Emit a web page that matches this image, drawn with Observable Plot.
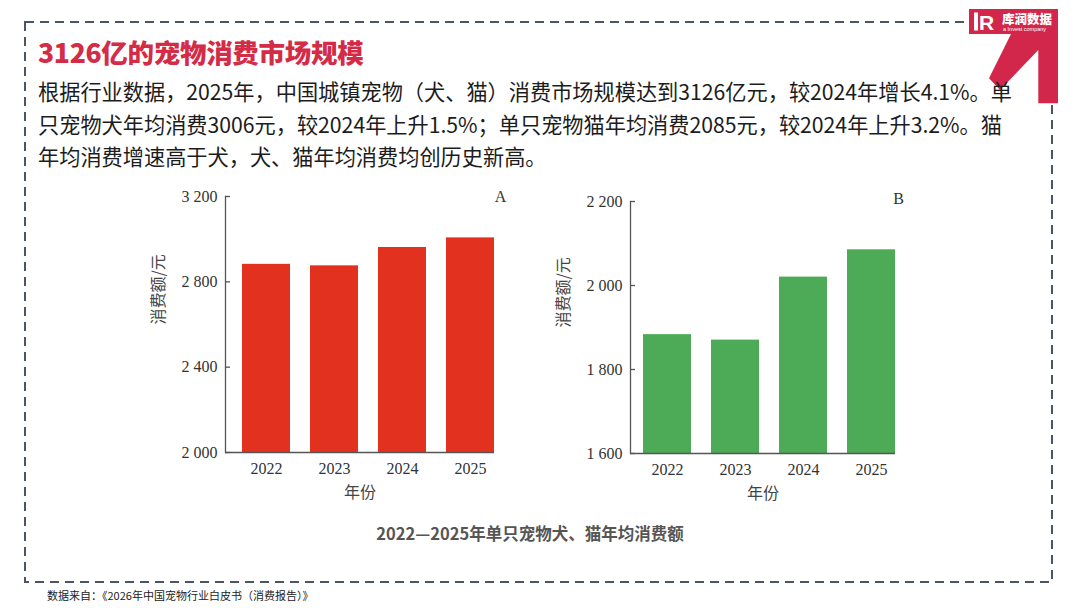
<!DOCTYPE html>
<html>
<head>
<meta charset="utf-8">
<script src="https://cdn.jsdelivr.net/npm/d3@7"></script>
<script src="https://cdn.jsdelivr.net/npm/@observablehq/plot@0.6"></script>
<style>
  html, body { margin: 0; padding: 0; background: #fff; }
  #page { position: relative; width: 1080px; height: 608px; overflow: hidden; background: #fff;
          font-family: "Noto Sans CJK SC", "Noto Sans", sans-serif; }
  #deco { position: absolute; left: 0; top: 0; }
  #title { position: absolute; left: 38px; top: 34px; font-size: 26.5px; font-weight: 900; color: #d42b47;
           line-height: 36px; white-space: nowrap; letter-spacing: -0.3px; }
  #para { position: absolute; left: 38px; top: 75px; font-size: 21.2px; color: #1c1c1c; line-height: 32.5px; }
  #para div { white-space: nowrap; }
  .chart { position: absolute; }
  #chartA { left: 140px; top: 180px; }
  #chartB { left: 540px; top: 180px; }
  #caption { position: absolute; left: 0; width: 1060px; top: 521px; text-align: center; font-size: 16.5px;
             font-weight: 700; color: #555; line-height: 24px; }
  #source { position: absolute; left: 47px; top: 587px; font-size: 11px; color: #222; line-height: 16px; white-space: nowrap; }
</style>
</head>
<body>
<div id="page">
  <svg id="deco" width="1080" height="608">
    <rect x="25" y="22" width="1027" height="560" fill="none" stroke="#4b5563" stroke-width="2" stroke-dasharray="9 6"/>
    <path d="M969,9 L1058,9 L1058,103.3 L1038.3,103.3 L1038.3,50 L1000,90 L989,78.3 L1011,34 L969,34 Z" fill="#d3264b"/>
    <rect x="974" y="12.5" width="4" height="18" fill="#fff"/>
    <text x="979" y="30" font-family="Liberation Sans" font-weight="700" font-size="21" fill="#fff">R</text>
    <text x="1002" y="23.5" font-family="Noto Sans CJK SC" font-weight="900" font-size="12.5" fill="#fff">库润数据</text>
    <text x="1003" y="31" font-family="Liberation Sans" font-size="5.5" fill="#fff">a Invest company</text>
  </svg>
  <div id="title">3126亿的宠物消费市场规模</div>
  <div id="para">
    <div>根据行业数据，2025年，中国城镇宠物（犬、猫）消费市场规模达到3126亿元，较2024年增长4.1%。单</div>
    <div>只宠物犬年均消费3006元，较2024年上升1.5%；单只宠物猫年均消费2085元，较2024年上升3.2%。猫</div>
    <div>年均消费增速高于犬，犬、猫年均消费均创历史新高。</div>
  </div>
  <div id="chartA" class="chart"></div>
  <div id="chartB" class="chart"></div>
  <div id="caption">2022—2025年单只宠物犬、猫年均消费额</div>
  <div id="source">数据来自：《2026年中国宠物行业白皮书（消费报告）》</div>
</div>
<script>
// ---- data ----
const years = ["2022", "2023", "2024", "2025"];
const dogSpend = [2882, 2875, 2961, 3006];
const catSpend = [1883, 1870, 2020, 2085];
const dogTicks = [2000, 2400, 2800, 3200];
const catTicks = [1600, 1800, 2000, 2200];
const panelLabels = ["A", "B"];
const xLabel = "年份";
const yLabel = "消费额/元";

const fmt = d => d3.format(",")(d).replace(",", " ");
const serif = "Liberation Serif, 'Times New Roman', serif";

function makeChart({values, ticks, color, panel, width, height, margins, paddingOuter, panelDx, panelDy}) {
  const data = years.map((y, i) => ({year: y, value: values[i]}));
  const base = ticks[0];
  return Plot.plot({
    width, height,
    marginLeft: margins[0], marginRight: margins[1], marginTop: margins[2], marginBottom: margins[3],
    style: {fontFamily: serif, fontSize: "16px", color: "#333", background: "transparent", overflow: "visible"},
    x: {type: "band", domain: years, paddingInner: 0.29, paddingOuter, align: 1, label: null},
    y: {domain: [ticks[0], ticks[ticks.length - 1]], label: null},
    marks: [
      Plot.barY(data, {x: "year", y1: base, y2: "value", fill: color}),
      Plot.ruleY([base], {stroke: "#555", strokeWidth: 1.3}),
      Plot.frame({anchor: "left", stroke: "#555", strokeWidth: 1.3}),
      Plot.axisY({ticks, tickFormat: fmt, tickSize: -5, tickPadding: 13, stroke: "#555",
                  strokeWidth: 1.3, fontSize: 16, fill: "#333", label: null}),
      Plot.axisX({tickSize: 0, tickPadding: 10, fontSize: 16, fill: "#333", label: null}),
      Plot.text([xLabel], {frameAnchor: "bottom", dy: 45, fontSize: 16, fill: "#444",
                           fontFamily: "Noto Sans CJK SC"}),
      Plot.text([yLabel], {frameAnchor: "left", dx: -67, rotate: -90, fontSize: 16, fill: "#444",
                           fontFamily: "Noto Sans CJK SC"}),
      Plot.text([panel], {frameAnchor: "top-right", dx: panelDx, dy: panelDy, fontSize: 16, fill: "#333", textAnchor: "middle"})
    ]
  });
}

document.getElementById("chartA").appendChild(makeChart({
  values: dogSpend, ticks: dogTicks, color: "#e2321f", panel: panelLabels[0],
  width: 380, height: 330, margins: [85, 26, 16, 58], paddingOuter: 0.115, panelDx: 6, panelDy: -6
}));
document.getElementById("chartB").appendChild(makeChart({
  values: catSpend, ticks: catTicks, color: "#4daa57", panel: panelLabels[1],
  width: 400, height: 330, margins: [90, 45, 21, 57], paddingOuter: 0.07, panelDx: 3, panelDy: -9
}));
</script>
</body>
</html>
